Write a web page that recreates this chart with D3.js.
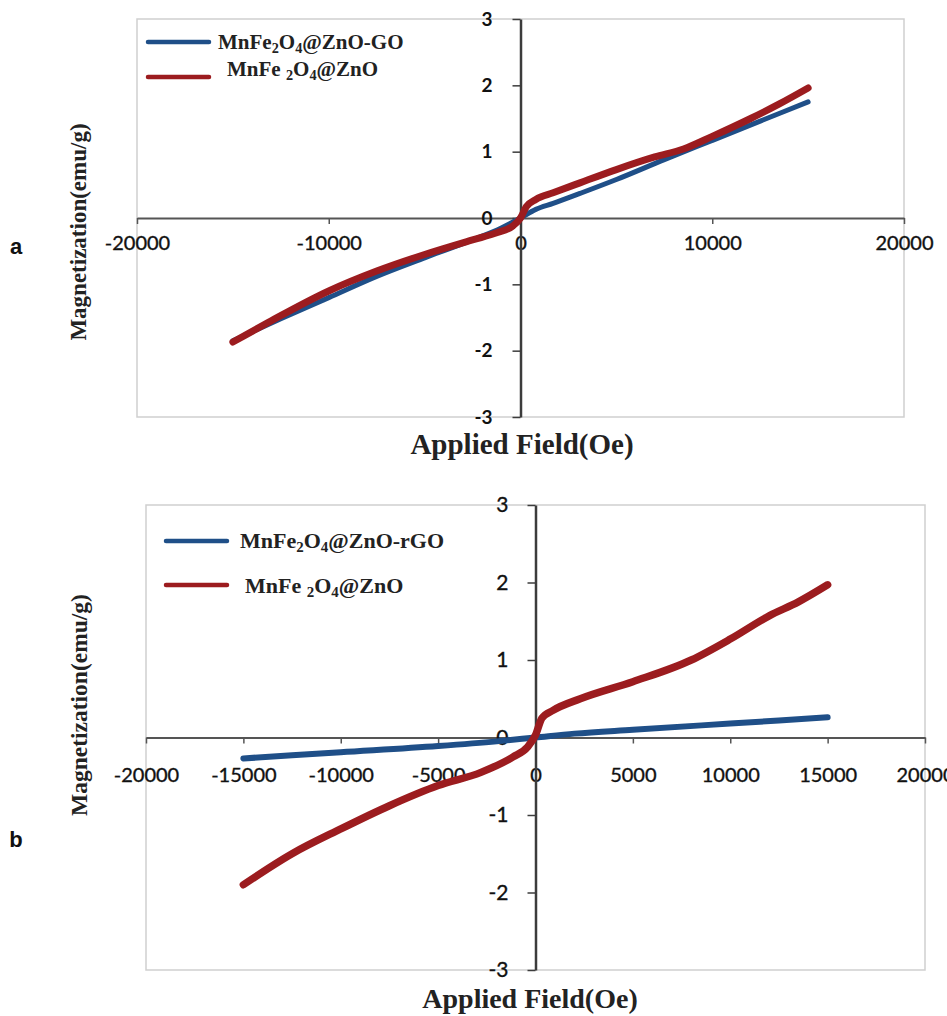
<!DOCTYPE html>
<html>
<head>
<meta charset="utf-8">
<script src="https://cdn.jsdelivr.net/npm/d3@7"></script>
<style>
body{margin:0;background:#fff;}
</style>
</head>
<body>
<div id="chart"></div>
<script>
// tick values
var fieldTicksA = [-20000, -10000, 0, 10000, 20000];
var fieldTicksB = [-20000, -15000, -10000, -5000, 0, 5000, 10000, 15000, 20000];
var magTicks = [-3, -2, -1, 0, 1, 2, 3];

// panel a
var fieldA_GO = [-15000, -12500, -10000, -7500, -5000, -2500, -1000, 0, 800, 1700, 3100, 5000, 7500, 10000, 12500, 15000];
var magA_GO   = [-1.85, -1.52, -1.2, -0.88, -0.6, -0.33, -0.15, 0.0, 0.13, 0.22, 0.37, 0.58, 0.88, 1.17, 1.46, 1.75];
var fieldA_ZnO = [-15000, -13000, -10000, -7500, -5000, -2500, -1200, -400, 0, 300, 800, 1700, 3100, 5000, 7000, 8500, 10000, 12000, 13500, 15000];
var magA_ZnO   = [-1.87, -1.55, -1.1, -0.8, -0.55, -0.33, -0.22, -0.12, 0.0, 0.17, 0.28, 0.38, 0.53, 0.73, 0.92, 1.04, 1.23, 1.5, 1.72, 1.96];

// panel b
var fieldB_rGO = [-15000, -10000, -5000, -2000, 0, 2000, 5000, 10000, 15000];
var magB_rGO   = [-0.27, -0.19, -0.11, -0.05, 0.0, 0.05, 0.1, 0.18, 0.26];
var fieldB_ZnO = [-15000, -12500, -10000, -7500, -5000, -2800, -1150, -400, 0, 330, 900, 2300, 5000, 8000, 10000, 12000, 13500, 15000];
var magB_ZnO   = [-1.9, -1.5, -1.18, -0.88, -0.62, -0.45, -0.25, -0.12, 0.03, 0.25, 0.35, 0.5, 0.72, 1.0, 1.27, 1.57, 1.75, 1.97];

var seriesNamesA = ["MnFe2O4@ZnO-GO", "MnFe 2O4@ZnO"];
var seriesNamesB = ["MnFe2O4@ZnO-rGO", "MnFe 2O4@ZnO"];
var panelLetters = ["a", "b"];

var BLUE = "#1f4f88";
var RED = "#9c1c1f";
var SERIF = "'Liberation Serif', 'Times New Roman', serif";
var SANS = "Lato, 'Open Sans', sans-serif";

var svg = d3.select("#chart").append("svg")
    .attr("width", 947)
    .attr("height", 1016)
    .style("background", "#fff");

function zip(xs, ys){
    return xs.map(function(x, i){ return {f: x, m: ys[i]}; });
}

// plain hyphen minus like the original
function tickText(d){
    return String(d);
}

MagPanel = function(opts){
    this.o = opts;
    this.init();
};

MagPanel.prototype.init = function(){
    var o = this.o;
    var g = svg.append("g");

    this.x = d3.scaleLinear().domain([-20000, 20000]).range([o.left, o.right]);
    this.y = d3.scaleLinear().domain([-3, 3]).range([o.bottom, o.top]);
    var x = this.x, y = this.y;

    // plot frame
    g.append("rect")
        .attr("x", o.left)
        .attr("y", o.top)
        .attr("width", o.right - o.left)
        .attr("height", o.bottom - o.top)
        .style("fill", "none")
        .style("stroke", "#cfcfcf")
        .style("stroke-width", 1.5);

    var xAxis = g.append("g")
        .attr("transform", "translate(0," + y(0) + ")")
        .call(d3.axisBottom(x).tickValues(o.xTicks).tickSizeInner(6).tickSizeOuter(0).tickPadding(o.xPad).tickFormat(tickText));
    xAxis.select(".domain").style("stroke", "#555").style("stroke-width", 2);
    xAxis.selectAll(".tick line").style("stroke", "#555").style("stroke-width", 1.5);
    xAxis.selectAll("text")
        .style("font-family", SANS)
        .style("font-size", o.xFont + "px")
        .style("fill", "#111")
        .style("stroke", "#111")
        .style("stroke-width", 0.35);

    var yAxis = g.append("g")
        .attr("transform", "translate(" + x(0) + ",0)")
        .call(d3.axisLeft(y).tickValues(magTicks).tickSizeInner(8).tickSizeOuter(0).tickPadding(o.yPad).tickFormat(tickText));
    yAxis.select(".domain").style("stroke", "#3c3c3c").style("stroke-width", 2.5);
    yAxis.selectAll(".tick line").style("stroke", "#3c3c3c").style("stroke-width", 1.5);
    yAxis.selectAll("text")
        .style("font-family", SANS)
        .style("font-size", o.yFont + "px")
        .style("font-weight", o.yBold ? "bold" : "normal")
        .style("fill", "#111")
        .style("stroke", "#111")
        .style("stroke-width", o.yBold ? 0 : 0.35);

    var line = d3.line()
        .x(function(d){ return x(d.f); })
        .y(function(d){ return y(d.m); })
        .curve(d3.curveMonotoneX);

    o.series.forEach(function(s){
        g.append("path")
            .datum(s.data)
            .attr("d", line)
            .style("fill", "none")
            .style("stroke", s.color)
            .style("stroke-width", s.width)
            .style("stroke-linecap", "round")
            .style("stroke-linejoin", "round");
    });

    // legend
    o.series.forEach(function(s, i){
        var ly = o.legendY[i];
        g.append("line")
            .attr("x1", o.legendX[0])
            .attr("x2", o.legendX[1])
            .attr("y1", ly)
            .attr("y2", ly)
            .style("stroke", s.color)
            .style("stroke-width", 4.5)
            .style("stroke-linecap", "round");
        var t = g.append("text")
            .attr("x", o.legendTextX[i])
            .attr("y", o.legendTextY[i])
            .style("font-family", SERIF)
            .style("font-weight", "bold")
            .style("font-size", o.legendFont + "px")
            .style("fill", "#222");
        // digits become subscripts
        var shifted = false;
        s.name.split(/(\d)/).forEach(function(part){
            if(part === "") return;
            var sub = /^\d$/.test(part);
            var span = t.append("tspan").text(part);
            if(sub){
                span.style("font-size", (o.legendFont * 0.68) + "px");
                if(!shifted) span.attr("dy", 4);
                shifted = true;
            } else if(shifted){
                span.attr("dy", -4);
                shifted = false;
            }
        });
    });

    // axis titles
    g.append("text")
        .attr("x", o.xTitle[0])
        .attr("y", o.xTitle[1])
        .attr("text-anchor", "middle")
        .style("font-family", SERIF)
        .style("font-weight", "bold")
        .style("font-size", o.xTitleFont + "px")
        .style("fill", "#222")
        .text("Applied Field(Oe)");

    g.append("text")
        .attr("transform", "translate(" + o.yTitle[0] + "," + o.yTitle[1] + ") rotate(-90)")
        .attr("text-anchor", "middle")
        .style("font-family", SERIF)
        .style("font-weight", "bold")
        .style("font-size", o.yTitleFont + "px")
        .style("fill", "#222")
        .text("Magnetization(emu/g)");

    g.append("text")
        .attr("x", 16)
        .attr("y", o.letterY)
        .attr("text-anchor", "middle")
        .style("font-family", "'Liberation Sans', Arial, sans-serif")
        .style("font-weight", "bold")
        .style("font-size", "22px")
        .style("fill", "#111")
        .text(o.letter);
};

new MagPanel({
    left: 137, right: 904, top: 19, bottom: 417,
    xTicks: fieldTicksA, xPad: 12, xFont: 20, yPad: 20, yFont: 19, yBold: true,
    series: [
        {name: seriesNamesA[0], data: zip(fieldA_GO, magA_GO), color: BLUE, width: 5},
        {name: seriesNamesA[1], data: zip(fieldA_ZnO, magA_ZnO), color: RED, width: 7}
    ],
    legendX: [148, 209], legendY: [42, 77],
    legendTextX: [218, 227], legendTextY: [49, 76], legendFont: 21,
    xTitle: [522, 454], xTitleFont: 29,
    yTitle: [86, 232], yTitleFont: 23,
    letter: panelLetters[0], letterY: 254
});

new MagPanel({
    left: 146, right: 925, top: 505, bottom: 970,
    xTicks: fieldTicksB, xPad: 24, xFont: 20, yPad: 19, yFont: 21, yBold: false,
    series: [
        {name: seriesNamesB[0], data: zip(fieldB_rGO, magB_rGO), color: BLUE, width: 6},
        {name: seriesNamesB[1], data: zip(fieldB_ZnO, magB_ZnO), color: RED, width: 7.5}
    ],
    legendX: [166, 227], legendY: [541, 585],
    legendTextX: [240, 245], legendTextY: [548, 593], legendFont: 22,
    xTitle: [530, 1008], xTitleFont: 28,
    yTitle: [87, 705], yTitleFont: 23.5,
    letter: panelLetters[1], letterY: 847
});
</script>
</body>
</html>
